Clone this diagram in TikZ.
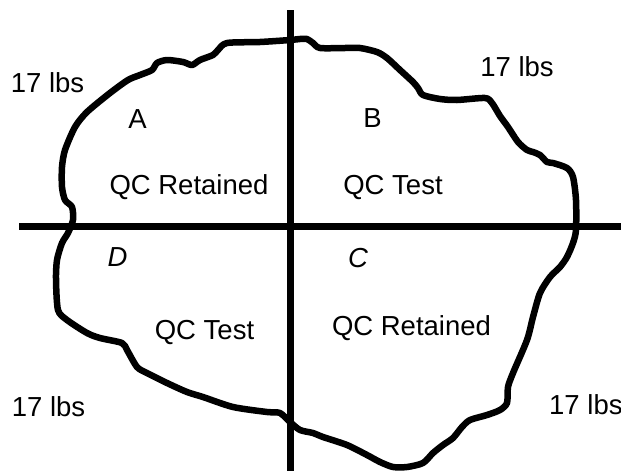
\documentclass[tikz,border=0pt]{standalone}
\usepackage{fontspec}
\setmainfont{Liberation Sans}
\begin{document}
\begin{tikzpicture}[x=1pt,y=-1pt,
  lbl/.style={inner sep=0pt,font=\fontsize{27.5}{33}\selectfont},
  blobline/.style={line width=6.5pt,line join=round,line cap=round},
  axisline/.style={line width=7pt}]
\useasboundingbox (0,0) rectangle (621,471);
\fill[white] (0,0) rectangle (621,471);
% blob outline
\draw[blobline] plot[smooth cycle, tension=0.45] coordinates {
(300,39) (307,39) (313,43) (320,48) (345,48) (360,48) (377,52) (387,58) (400,70)
(413,82) (418,88) (423,95) (440,99) (457,100) (485,98) (492,103) (500,116) (508,127)
(518,142) (527,150) (533,152) (540,155) (547,162) (553,163) (567,168) (573,177)
(576,200) (576,230) (573,243) (567,257) (560,267) (550,277) (540,293) (533,317)
(527,340) (513,373) (508,387) (507,403) (500,410) (487,415) (470,420) (462,427)
(453,438) (443,445) (433,453) (423,463) (407,467) (393,467) (380,462) (367,455)
(347,445) (323,437) (313,433) (300,430) (290,422) (280,413) (267,412) (233,407)
(203,397) (187,392) (167,383) (147,373) (137,367) (127,350) (122,343) (100,338)
(87,333) (67,320) (58,310) (56,280) (57,260) (62,243) (68,233) (73,220) (72,207)
(65,200) (62,187) (62,167) (65,150) (75,127) (87,112) (110,93) (128,80) (140,75)
(152,70) (157,63) (167,60) (183,62) (192,65) (200,60) (213,55) (218,50) (227,43)
(260,42) (290,40)};
% cross
\coordinate (vt) at (290.5,10);
\coordinate (vb) at (290.5,471);
\coordinate (hl) at (19,226.5);
\coordinate (hr) at (621,226.5);
\draw[axisline] (vt) -- (vb);
\draw[axisline] (hl) -- (hr);
% labels
\node[lbl] (w1) at (47.5,82.5) {17 lbs};
\node[lbl] (w2) at (517,67) {17 lbs};
\node[lbl] (w3) at (48.5,407) {17 lbs};
\node[lbl,anchor=west] (w4) at (549,405) {17 lbs};
\node[lbl] (qa) at (137.5,119) {A};
\node[lbl] (qb) at (372.5,118) {B};
\node[lbl] (qd) at (117.5,257.5) {\itshape D};
\node[lbl] (qc) at (358,258) {\itshape C};
\node[lbl] (ra) at (189,187) {QC Retained};
\node[lbl] (tb) at (393,187) {QC Test};
\node[lbl] (td) at (204.5,332) {QC Test};
\node[lbl] (rc) at (411.5,328) {QC Retained};
\end{tikzpicture}
\end{document}
